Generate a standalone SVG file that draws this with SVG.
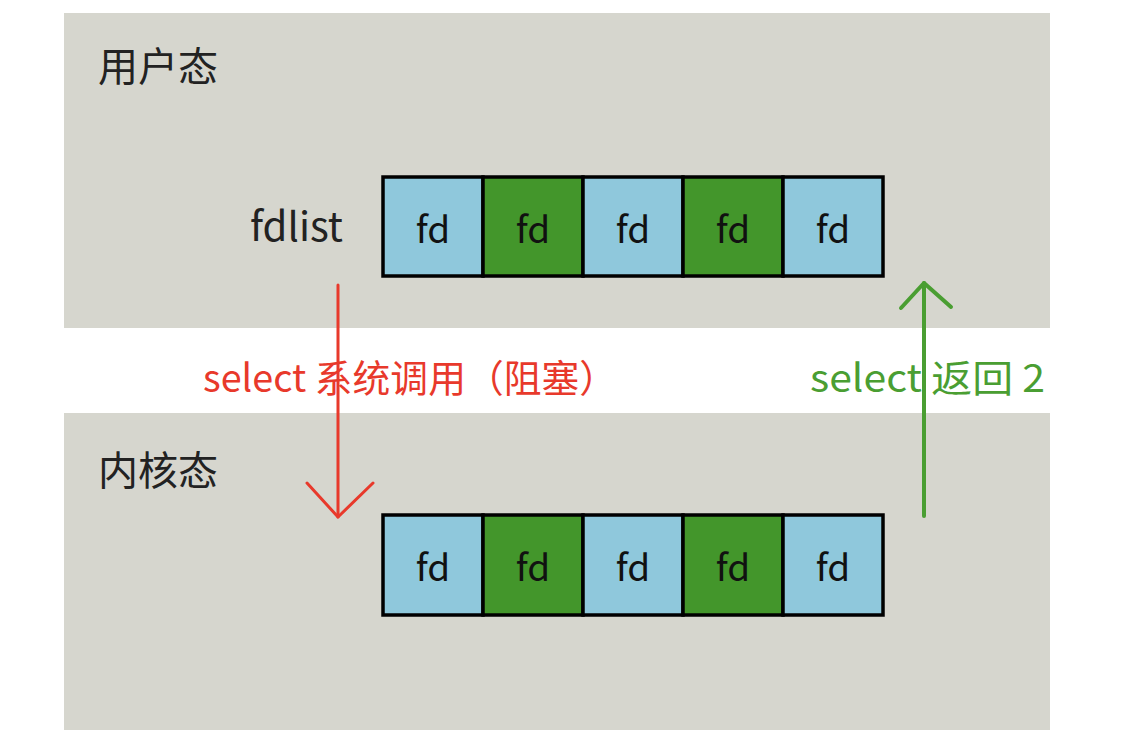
<svg xmlns="http://www.w3.org/2000/svg" width="1128" height="756" viewBox="0 0 1128 756">
<style>
text{font-family:"Noto Sans CJK SC","Noto Sans",sans-serif;}
.panel{fill:#d6d6ce;}
.lbl{font-size:40px;fill:#222;}
.fd{font-size:37px;fill:#111;text-anchor:middle;}
.blue{fill:#8fc8dc;stroke:#000;stroke-width:3.5;}
.green{fill:#43962b;stroke:#000;stroke-width:3.5;}
</style>
<rect width="1128" height="756" fill="#fff"/>
<g id="user-space">
<rect class="panel" x="64" y="13" width="986" height="315"/>
<text class="lbl" x="98" y="81">用户态</text>
</g>
<g id="kernel-space">
<rect class="panel" x="64" y="413" width="986" height="317"/>
<text class="lbl" x="98" y="485">内核态</text>
</g>
<g id="fdlist-user">
<text class="lbl" x="250" y="241" textLength="93" lengthAdjust="spacingAndGlyphs">fdlist</text>
<rect class="blue" x="383" y="177" width="100" height="99"/>
<rect class="green" x="483" y="177" width="100" height="99"/>
<rect class="blue" x="583" y="177" width="100" height="99"/>
<rect class="green" x="683" y="177" width="100" height="99"/>
<rect class="blue" x="783" y="177" width="100" height="99"/>
<text class="fd" x="433" y="243">fd</text>
<text class="fd" x="533" y="243">fd</text>
<text class="fd" x="633" y="243">fd</text>
<text class="fd" x="733" y="243">fd</text>
<text class="fd" x="833" y="243">fd</text>
</g>
<g id="fdlist-kernel">
<rect class="blue" x="383" y="515" width="100" height="100"/>
<rect class="green" x="483" y="515" width="100" height="100"/>
<rect class="blue" x="583" y="515" width="100" height="100"/>
<rect class="green" x="683" y="515" width="100" height="100"/>
<rect class="blue" x="783" y="515" width="100" height="100"/>
<text class="fd" x="433" y="581">fd</text>
<text class="fd" x="533" y="581">fd</text>
<text class="fd" x="633" y="581">fd</text>
<text class="fd" x="733" y="581">fd</text>
<text class="fd" x="833" y="581">fd</text>
</g>
<g id="connectors" fill="none" stroke-linecap="round" stroke-linejoin="round">
<g id="call" stroke="#e8392b" stroke-width="3">
<line x1="338" y1="285" x2="338" y2="517"/>
<polyline points="307,483 338,517 373,483"/>
</g>
<g id="return" stroke="#4a9e32" stroke-width="4">
<line x1="924" y1="516" x2="924" y2="283"/>
<polyline points="901,308 924,283 951,307"/>
</g>
</g>
<g id="labels">
<text x="203" y="392" font-size="38" fill="#e8392b" textLength="414" lengthAdjust="spacingAndGlyphs">select 系统调用（阻塞）</text>
<text x="810" y="392" font-size="38" fill="#4a9e32" textLength="235" lengthAdjust="spacingAndGlyphs">select 返回 2</text>
</g>
</svg>
